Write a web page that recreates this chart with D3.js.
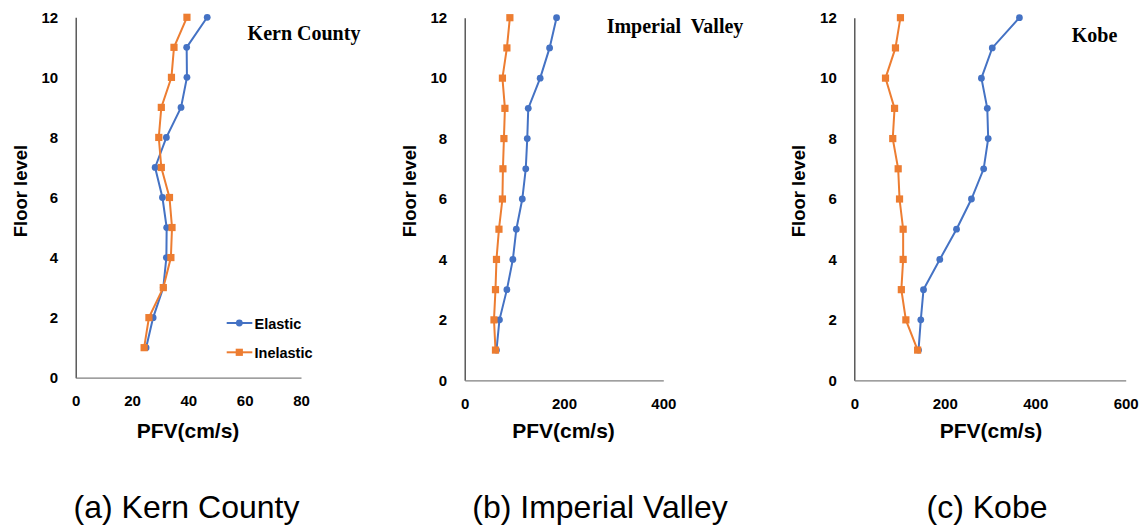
<!DOCTYPE html>
<html><head><meta charset="utf-8">
<script src="https://cdn.jsdelivr.net/npm/d3@7"></script>
<style>body{margin:0;background:#fff}svg{display:block}</style>
</head><body>
<svg id="c" width="1145" height="526"></svg>
<script>
const floors = [1,2,3,4,5,6,7,8,9,10,11,12];
const kernElastic   = [25,27.5,31.1,32.2,32.3,30.8,28.2,32.2,37.4,39.5,39.4,46.7];
const kernInelastic = [24.3,26.0,31.1,33.8,34.2,33.3,30.4,29.5,30.4,34.0,34.9,39.5];
const impElastic    = [64,70,85,97,104,116,123,126,128,152,171,185];
const impInelastic  = [62,59,62,64,69,76,77,79,81,76,85,91];
const kobeElastic   = [142,147,153,189,226,259,286,296,294,281,305,365];
const kobeInelastic = [140,114,104,108,108,100,97,85,89,69,91,102];
const yTicks = [0,2,4,6,8,10,12];
const kernXTicks = [0,20,40,60,80];
const impXTicks = [0,200,400];
const kobeXTicks = [0,200,400,600];
const seriesNames = ["Elastic","Inelastic"];
const titles = ["Kern County","Imperial  Valley","Kobe"];
const captions = ["(a) Kern County","(b) Imperial Valley","(c) Kobe"];

const BLUE = "#4472C4", ORANGE = "#ED7D31";
const SANS = "Liberation Sans, Arial, sans-serif";
const svg = d3.select("#c");

const panels = [
  {x0:75.7, x1:301, yTop:17.3, yBot:377.7, xmax:80, xt:kernXTicks, e:kernElastic, i:kernInelastic,
   title:titles[0], tx:304, ty:40, ylabX:20, xlabX:188, capX:186.5, legend:true},
  {x0:464.7, x1:663.3, yTop:17.7, yBot:380.3, xmax:400, xt:impXTicks, e:impElastic, i:impInelastic,
   title:titles[1], tx:675, ty:33, ylabX:409, xlabX:563.5, capX:600, legend:false},
  {x0:854.3, x1:1125.7, yTop:17.7, yBot:380.3, xmax:600, xt:kobeXTicks, e:kobeElastic, i:kobeInelastic,
   title:titles[2], tx:1094.5, ty:42, ylabX:798, xlabX:991, capX:987, legend:false}
];

panels.forEach((p, idx) => {
  const x = d3.scaleLinear().domain([0,p.xmax]).range([p.x0,p.x1]);
  const y = d3.scaleLinear().domain([0,12]).range([p.yBot,p.yTop]);
  const g = svg.append("g");

  const ya = g.append("g").attr("transform",`translate(${p.x0},0)`)
    .call(d3.axisLeft(y).tickValues(yTicks).tickSize(0).tickPadding(17.5));
  ya.select(".domain").attr("stroke","#404040").attr("stroke-width",1.3);
  ya.selectAll("text").attr("font-family",SANS)
    .attr("font-weight","bold").attr("font-size",15).attr("fill","#000");

  const xa = g.append("g").attr("transform",`translate(0,${p.yBot})`)
    .call(d3.axisBottom(x).tickValues(p.xt).tickSize(0).tickPadding(18));
  xa.select(".domain").attr("stroke","#7f7f7f").attr("stroke-width",1.3);
  xa.selectAll("text").attr("font-family",SANS)
    .attr("font-weight","bold").attr("font-size",15).attr("fill","#000");

  const line = d3.line().x(d=>x(d[1])).y(d=>y(d[0]));
  const series = [{v:p.e, c:BLUE, shape:"circle"},{v:p.i, c:ORANGE, shape:"square"}];
  series.forEach(s => {
    const pts = floors.map((f,k)=>[f,s.v[k]]);
    g.append("path").datum(pts).attr("d",line).attr("fill","none")
      .attr("stroke",s.c).attr("stroke-width",2);
    if (s.shape==="circle") {
      g.selectAll(null).data(pts).enter().append("circle")
        .attr("cx",d=>x(d[1])).attr("cy",d=>y(d[0])).attr("r",3.4).attr("fill",s.c);
    } else {
      g.selectAll(null).data(pts).enter().append("rect")
        .attr("x",d=>x(d[1])-3.6).attr("y",d=>y(d[0])-3.6)
        .attr("width",7.2).attr("height",7.2).attr("fill",s.c);
    }
  });

  g.append("text").attr("x",p.tx).attr("y",p.ty).attr("text-anchor","middle")
    .attr("font-family","Liberation Serif, Times New Roman, serif").attr("font-weight","bold")
    .attr("font-size",20).attr("fill","#000").style("white-space","pre").text(p.title);

  g.append("text").attr("transform",`translate(${p.ylabX+7},${191}) rotate(-90)`)
    .attr("text-anchor","middle").attr("font-family",SANS)
    .attr("font-weight","bold").attr("font-size",18.5).attr("fill","#000").text("Floor level");
  g.append("text").attr("x",p.xlabX).attr("y",438).attr("text-anchor","middle")
    .attr("font-family",SANS)
    .attr("font-weight","bold").attr("font-size",21).attr("fill","#000").text("PFV(cm/s)");

  g.append("text").attr("x",p.capX).attr("y",518).attr("text-anchor","middle")
    .attr("font-family",SANS)
    .attr("font-size",32).attr("fill","#000").text(captions[idx]);

  if (p.legend) {
    const lg = g.append("g");
    seriesNames.forEach((n,k) => {
      const ly = 323 + k*29.3;
      const c = k===0?BLUE:ORANGE;
      lg.append("line").attr("x1",226.7).attr("x2",252.3).attr("y1",ly).attr("y2",ly)
        .attr("stroke",c).attr("stroke-width",2);
      if (k===0) lg.append("circle").attr("cx",239.3).attr("cy",ly).attr("r",3.4).attr("fill",c);
      else lg.append("rect").attr("x",239.3-3.6).attr("y",ly-3.6).attr("width",7.2).attr("height",7.2).attr("fill",c);
      lg.append("text").attr("x",254.5).attr("y",ly+5.5).attr("font-family",SANS)
        .attr("font-weight","bold").attr("font-size",14.5).attr("fill","#000").text(n);
    });
  }
});
</script>
</body></html>
